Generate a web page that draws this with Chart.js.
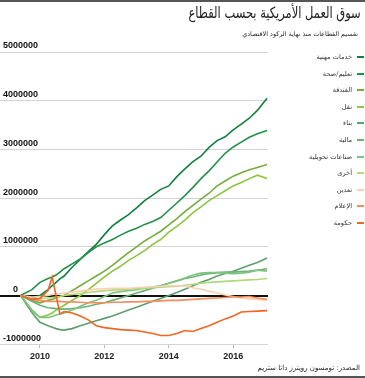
<!DOCTYPE html>
<html lang="ar">
<head>
<meta charset="utf-8">
<script src="https://cdn.jsdelivr.net/npm/chart.js@4.4.3/dist/chart.umd.min.js"></script>
<style>
  html, body { margin: 0; padding: 0; background: #fff; }
  #wrap { position: relative; width: 365px; height: 378px; overflow: hidden; font-family: "DejaVu Sans", sans-serif; }
  .bar { position: absolute; left: 0; width: 365px; height: 2px; background: #555; z-index: 2; }
  .txt { position: absolute; direction: rtl; white-space: nowrap; color: #222; z-index: 2; }
  #title { right: 4px; top: 4px; font-size: 15.5px; transform: scaleX(0.74); transform-origin: right center; }
  #subtitle { right: 7px; top: 30px; font-size: 6.4px; }
  #source { right: 5px; top: 364px; font-size: 7px; }
  #legend { position: absolute; right: 1px; top: 49px; direction: rtl; z-index: 2; }
  .item { height: 16.55px; display: flex; align-items: center; font-size: 6.6px; color: #333; white-space: nowrap; }
  .sw { display: inline-block; width: 7px; height: 2px; margin-left: 5px; }
  #chartBox { position: absolute; left: 0; top: 0; width: 365px; height: 378px; z-index: 1; }
</style>
</head>
<body>
<div id="wrap">
  <div class="bar" style="top:0"></div>
  <div id="title" class="txt">سوق العمل الأمريكية بحسب القطاع</div>
  <div id="subtitle" class="txt">تقسيم القطاعات منذ نهاية الركود الاقتصادي</div>
  <div id="chartBox"><canvas id="c" width="365" height="378"></canvas></div>
  <div id="legend"></div>
  <div id="source" class="txt">المصدر: تومسون رويترز داتا ستريم</div>
  <div class="bar" style="top:376px"></div>
</div>
<script>
// ---------- البيانات ----------
// السنوات (كسور عشرية)
const dates = [2009.4, 2009.75, 2010.0, 2010.25, 2010.38, 2010.5, 2010.62, 2010.75,
  2011.0, 2011.25, 2011.5, 2011.75, 2012.0, 2012.25, 2012.5, 2012.75,
  2013.0, 2013.25, 2013.5, 2013.75, 2014.0, 2014.25, 2014.5, 2014.75,
  2015.0, 2015.25, 2015.5, 2015.75, 2016.0, 2016.25, 2016.5, 2016.75, 2017.05];

const sectors = ["خدمات مهنية", "تعليم/صحة", "الفندقة", "نقل", "بناء", "مالية",
  "صناعات تحويلية", "أخرى", "تعدين", "الإعلام", "حكومة"];

const colors = ["#13803f", "#23904a", "#74ad3e", "#8cc63f", "#5f9e6e", "#6cb17a",
  "#7cc47f", "#b2d97a", "#fbcfb3", "#f58d5c", "#f26522"];

// بالمليون وظيفة
const professional = [0, -0.05, 0.0, 0.12, 0.2, 0.27, 0.34, 0.4, 0.58, 0.74, 0.9, 1.05, 1.25, 1.43, 1.55, 1.66,
  1.8, 1.95, 2.06, 2.18, 2.25, 2.44, 2.6, 2.75, 2.86, 3.04, 3.18, 3.26, 3.4, 3.52, 3.64, 3.8, 4.05];
const eduHealth = [0, 0.12, 0.27, 0.35, 0.38, 0.42, 0.48, 0.55, 0.65, 0.75, 0.88, 1.0, 1.08, 1.15, 1.24, 1.32,
  1.38, 1.46, 1.52, 1.6, 1.75, 1.9, 2.05, 2.22, 2.4, 2.56, 2.74, 2.92, 3.05, 3.15, 3.25, 3.32, 3.39];
const hospitality = [0, -0.1, -0.15, -0.1, -0.08, -0.05, -0.02, 0.0, 0.1, 0.2, 0.3, 0.4, 0.5, 0.62, 0.75, 0.88,
  1.0, 1.12, 1.22, 1.32, 1.45, 1.58, 1.72, 1.85, 1.98, 2.1, 2.25, 2.35, 2.45, 2.52, 2.58, 2.63, 2.69];
const transport = [0, -0.3, -0.45, -0.4, -0.36, -0.3, -0.25, -0.2, -0.1, 0.0, 0.12, 0.25, 0.38, 0.5, 0.6, 0.72,
  0.82, 0.92, 1.05, 1.15, 1.3, 1.42, 1.55, 1.7, 1.82, 1.95, 2.05, 2.15, 2.25, 2.32, 2.4, 2.47, 2.4];
const construction = [0, -0.35, -0.55, -0.62, -0.65, -0.68, -0.7, -0.71, -0.68, -0.62, -0.57, -0.52, -0.47, -0.42, -0.36, -0.3,
  -0.24, -0.18, -0.12, -0.06, 0.0, 0.06, 0.13, 0.2, 0.27, 0.33, 0.4, 0.45, 0.5, 0.56, 0.62, 0.68, 0.77];
const finance = [0, -0.12, -0.2, -0.25, -0.26, -0.27, -0.28, -0.28, -0.27, -0.25, -0.22, -0.18, -0.15, -0.1, -0.05, 0.0,
  0.05, 0.1, 0.15, 0.2, 0.25, 0.3, 0.35, 0.38, 0.42, 0.45, 0.47, 0.48, 0.48, 0.49, 0.5, 0.52, 0.55];
const manufacturing = [0, -0.3, -0.45, -0.45, -0.43, -0.4, -0.38, -0.36, -0.3, -0.22, -0.15, -0.1, -0.02, 0.05, 0.08, 0.1,
  0.12, 0.15, 0.18, 0.2, 0.25, 0.3, 0.36, 0.42, 0.46, 0.47, 0.47, 0.46, 0.45, 0.46, 0.48, 0.52, 0.5];
const other = [0, -0.05, -0.06, -0.05, -0.04, -0.03, -0.02, 0.0, 0.02, 0.04, 0.06, 0.08, 0.1, 0.11, 0.12, 0.13,
  0.14, 0.15, 0.16, 0.17, 0.18, 0.19, 0.21, 0.23, 0.25, 0.27, 0.28, 0.29, 0.3, 0.31, 0.32, 0.33, 0.35];
const mining = [0, -0.03, -0.02, 0.0, 0.02, 0.03, 0.04, 0.05, 0.07, 0.09, 0.11, 0.13, 0.14, 0.15, 0.15, 0.15,
  0.16, 0.17, 0.18, 0.19, 0.2, 0.2, 0.19, 0.16, 0.13, 0.09, 0.05, 0.01, -0.02, -0.05, -0.07, -0.08, -0.09];
const media = [0, -0.08, -0.1, -0.12, -0.12, -0.12, -0.12, -0.13, -0.13, -0.14, -0.15, -0.15, -0.15, -0.14, -0.14, -0.13,
  -0.13, -0.12, -0.12, -0.11, -0.1, -0.1, -0.09, -0.08, -0.07, -0.06, -0.05, -0.04, -0.03, -0.03, -0.02, -0.05, -0.08];
const government = [0, -0.08, -0.06, 0.1, 0.38, 0.0, -0.38, -0.33, -0.36, -0.42, -0.5, -0.62, -0.66, -0.68, -0.7, -0.71,
  -0.72, -0.75, -0.78, -0.82, -0.82, -0.78, -0.72, -0.74, -0.68, -0.62, -0.55, -0.48, -0.42, -0.34, -0.33, -0.32, -0.31];

const series = [professional, eduHealth, hospitality, transport, construction, finance,
  manufacturing, other, mining, media, government];

const yTicks = [-1000000, 0, 1000000, 2000000, 3000000, 4000000, 5000000];
const xTicks = [2010, 2012, 2014, 2016];

// ---------- وسيلة الإيضاح ----------
const legend = document.getElementById("legend");
sectors.forEach((name, i) => {
  const row = document.createElement("div");
  row.className = "item";
  row.innerHTML = `<span class="sw" style="background:${colors[i]}"></span><span>${name}</span>`;
  legend.appendChild(row);
});

// ---------- الرسم ----------
new Chart(document.getElementById("c"), {
  type: "line",
  data: {
    datasets: series.map((vals, i) => ({
      label: sectors[i],
      data: vals.map((v, k) => ({ x: dates[k], y: v * 1000000 })),
      borderColor: colors[i],
      borderWidth: 1.6,
      pointRadius: 0,
      tension: 0,
      fill: false,
    })).reverse(),
  },
  options: {
    responsive: false,
    animation: false,
    devicePixelRatio: 1,
    layout: { padding: { top: 52, right: 97, left: 0, bottom: 13 } },
    plugins: { legend: { display: false }, tooltip: { enabled: false } },
    scales: {
      x: {
        type: "linear",
        min: 2008.76,
        max: 2017.08,
        afterBuildTicks: (ax) => { ax.ticks = xTicks.map((v) => ({ value: v })); },
        border: { display: false },
        grid: { drawOnChartArea: false, tickLength: 4, color: "#bbb" },
        ticks: {
          padding: 3,
          color: "#222",
          font: { family: "Liberation Sans", size: 9, weight: "bold" },
          callback: (v) => String(v),
        },
      },
      y: {
        min: -1000000,
        max: 5000000,
        afterBuildTicks: (ax) => { ax.ticks = yTicks.map((v) => ({ value: v })); },
        afterFit: (ax) => { ax.width = 0; },
        border: { display: false },
        grid: {
          drawTicks: false,
          color: (c) => (c.tick && c.tick.value === 0 ? "#111" : "#d4d4d4"),
          lineWidth: (c) => (c.tick && c.tick.value === 0 ? 2 : 1),
        },
        ticks: {
          mirror: true,
          padding: 3,
          labelOffset: -6,
          color: "#111",
          font: { family: "Liberation Sans", size: 9, weight: "bold" },
          // الصفر في الأصل مزاح قليلاً نحو اليمين
          callback: (v) => (v === 0 ? "    0" : String(v)),
        },
      },
    },
  },
});
</script>
</body>
</html>
